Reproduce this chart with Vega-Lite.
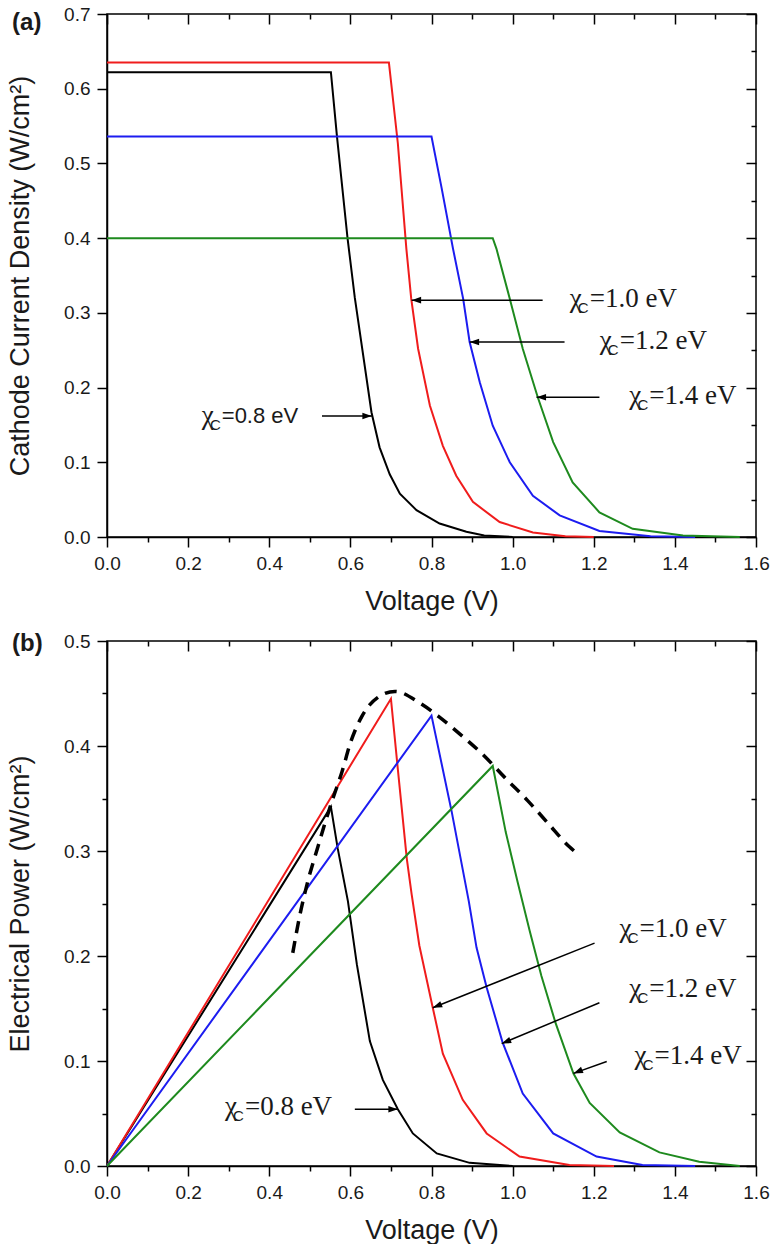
{
  "$schema": "https://vega.github.io/schema/vega-lite/v6.json",
  "background": "white",
  "padding": {"left": 5, "top": 4, "right": 0, "bottom": 0},
  "spacing": 15,
  "config": {
    "view": {"stroke": "black", "strokeWidth": 1.5},
    "axis": {
      "grid": false,
      "domainColor": "black",
      "domainWidth": 1.5,
      "tickColor": "black",
      "tickWidth": 1.5,
      "labelFont": "Liberation Sans",
      "labelFontSize": 19,
      "labelColor": "#1a1a1a",
      "labelFlush": false,
      "labelOverlap": false,
      "labelPadding": 7,
      "titleFont": "Liberation Sans",
      "titleFontSize": 27,
      "titleFontWeight": "normal",
      "titleColor": "#1a1a1a"
    }
  },
  "datasets": {
    "currentA": [
      {"s": "0.8", "V": 0, "J": 0.622}, {"s": "0.8", "V": 0.552, "J": 0.622}, {"s": "0.8", "V": 0.567, "J": 0.536},
      {"s": "0.8", "V": 0.593, "J": 0.4}, {"s": "0.8", "V": 0.611, "J": 0.32}, {"s": "0.8", "V": 0.652, "J": 0.167},
      {"s": "0.8", "V": 0.672, "J": 0.12}, {"s": "0.8", "V": 0.697, "J": 0.084}, {"s": "0.8", "V": 0.722, "J": 0.058},
      {"s": "0.8", "V": 0.763, "J": 0.036}, {"s": "0.8", "V": 0.82, "J": 0.018}, {"s": "0.8", "V": 0.886, "J": 0.007},
      {"s": "0.8", "V": 0.93, "J": 0.002}, {"s": "0.8", "V": 1.0, "J": 0},
      {"s": "1.0", "V": 0, "J": 0.635}, {"s": "1.0", "V": 0.695, "J": 0.635}, {"s": "1.0", "V": 0.717, "J": 0.527},
      {"s": "1.0", "V": 0.738, "J": 0.386}, {"s": "1.0", "V": 0.75, "J": 0.319}, {"s": "1.0", "V": 0.767, "J": 0.252},
      {"s": "1.0", "V": 0.796, "J": 0.176}, {"s": "1.0", "V": 0.828, "J": 0.122}, {"s": "1.0", "V": 0.861, "J": 0.082},
      {"s": "1.0", "V": 0.902, "J": 0.047}, {"s": "1.0", "V": 0.968, "J": 0.02}, {"s": "1.0", "V": 1.05, "J": 0.006},
      {"s": "1.0", "V": 1.13, "J": 0.001}, {"s": "1.0", "V": 1.2, "J": 0},
      {"s": "1.2", "V": 0, "J": 0.536}, {"s": "1.2", "V": 0.8, "J": 0.536}, {"s": "1.2", "V": 0.825, "J": 0.467},
      {"s": "1.2", "V": 0.853, "J": 0.386}, {"s": "1.2", "V": 0.878, "J": 0.319}, {"s": "1.2", "V": 0.894, "J": 0.261},
      {"s": "1.2", "V": 0.919, "J": 0.207}, {"s": "1.2", "V": 0.951, "J": 0.149}, {"s": "1.2", "V": 0.993, "J": 0.1},
      {"s": "1.2", "V": 1.05, "J": 0.055}, {"s": "1.2", "V": 1.116, "J": 0.029}, {"s": "1.2", "V": 1.214, "J": 0.008},
      {"s": "1.2", "V": 1.34, "J": 0.001}, {"s": "1.2", "V": 1.45, "J": 0},
      {"s": "1.4", "V": 0, "J": 0.4}, {"s": "1.4", "V": 0.951, "J": 0.4}, {"s": "1.4", "V": 0.96, "J": 0.386},
      {"s": "1.4", "V": 0.993, "J": 0.319}, {"s": "1.4", "V": 1.025, "J": 0.252}, {"s": "1.4", "V": 1.062, "J": 0.187},
      {"s": "1.4", "V": 1.1, "J": 0.127}, {"s": "1.4", "V": 1.148, "J": 0.073}, {"s": "1.4", "V": 1.214, "J": 0.033},
      {"s": "1.4", "V": 1.296, "J": 0.011}, {"s": "1.4", "V": 1.42, "J": 0.002}, {"s": "1.4", "V": 1.56, "J": 0}
    ],
    "powerB": [
      {"s": "0.8", "V": 0, "P": 0}, {"s": "0.8", "V": 0.552, "P": 0.342}, {"s": "0.8", "V": 0.569, "P": 0.302},
      {"s": "0.8", "V": 0.594, "P": 0.252}, {"s": "0.8", "V": 0.616, "P": 0.192}, {"s": "0.8", "V": 0.648, "P": 0.119},
      {"s": "0.8", "V": 0.68, "P": 0.082}, {"s": "0.8", "V": 0.717, "P": 0.054}, {"s": "0.8", "V": 0.754, "P": 0.031},
      {"s": "0.8", "V": 0.813, "P": 0.012}, {"s": "0.8", "V": 0.894, "P": 0.003}, {"s": "0.8", "V": 1.0, "P": 0},
      {"s": "1.0", "V": 0, "P": 0}, {"s": "1.0", "V": 0.7, "P": 0.445}, {"s": "1.0", "V": 0.717, "P": 0.378},
      {"s": "1.0", "V": 0.739, "P": 0.293}, {"s": "1.0", "V": 0.751, "P": 0.259}, {"s": "1.0", "V": 0.77, "P": 0.21},
      {"s": "1.0", "V": 0.803, "P": 0.151}, {"s": "1.0", "V": 0.828, "P": 0.107}, {"s": "1.0", "V": 0.877, "P": 0.063},
      {"s": "1.0", "V": 0.936, "P": 0.031}, {"s": "1.0", "V": 1.017, "P": 0.009}, {"s": "1.0", "V": 1.14, "P": 0.001},
      {"s": "1.0", "V": 1.25, "P": 0},
      {"s": "1.2", "V": 0, "P": 0}, {"s": "1.2", "V": 0.8, "P": 0.429}, {"s": "1.2", "V": 0.85, "P": 0.337},
      {"s": "1.2", "V": 0.892, "P": 0.252}, {"s": "1.2", "V": 0.911, "P": 0.208}, {"s": "1.2", "V": 0.936, "P": 0.17},
      {"s": "1.2", "V": 0.975, "P": 0.118}, {"s": "1.2", "V": 1.025, "P": 0.069}, {"s": "1.2", "V": 1.1, "P": 0.031},
      {"s": "1.2", "V": 1.207, "P": 0.009}, {"s": "1.2", "V": 1.32, "P": 0.001}, {"s": "1.2", "V": 1.45, "P": 0},
      {"s": "1.4", "V": 0, "P": 0}, {"s": "1.4", "V": 0.951, "P": 0.381}, {"s": "1.4", "V": 0.983, "P": 0.318},
      {"s": "1.4", "V": 1.012, "P": 0.271}, {"s": "1.4", "V": 1.042, "P": 0.224}, {"s": "1.4", "V": 1.071, "P": 0.181},
      {"s": "1.4", "V": 1.106, "P": 0.136}, {"s": "1.4", "V": 1.15, "P": 0.088}, {"s": "1.4", "V": 1.19, "P": 0.06},
      {"s": "1.4", "V": 1.264, "P": 0.032}, {"s": "1.4", "V": 1.362, "P": 0.013}, {"s": "1.4", "V": 1.46, "P": 0.004},
      {"s": "1.4", "V": 1.56, "P": 0}
    ],
    "envelope": [
      {"V": 0.458, "P": 0.203}, {"V": 0.475, "P": 0.238}, {"V": 0.495, "P": 0.271}, {"V": 0.52, "P": 0.304},
      {"V": 0.537, "P": 0.326}, {"V": 0.557, "P": 0.35}, {"V": 0.579, "P": 0.375}, {"V": 0.601, "P": 0.404},
      {"V": 0.628, "P": 0.428}, {"V": 0.667, "P": 0.446}, {"V": 0.71, "P": 0.452}, {"V": 0.771, "P": 0.441},
      {"V": 0.818, "P": 0.428}, {"V": 0.877, "P": 0.409}, {"V": 0.929, "P": 0.391}, {"V": 0.983, "P": 0.369},
      {"V": 1.037, "P": 0.348}, {"V": 1.086, "P": 0.327}, {"V": 1.14, "P": 0.304}, {"V": 1.158, "P": 0.298}
    ],
    "labelsA": [
      {"t": "=1.0 eV", "V": 1.19, "J": 0.319},
      {"t": "=1.2 eV", "V": 1.264, "J": 0.262},
      {"t": "=1.4 eV", "V": 1.337, "J": 0.189},
      {"t": "=0.8 eV", "V": 0.283, "J": 0.162}
    ],
    "arrowsA": [
      {"label": "1.0", "V": 1.074, "J": 0.317, "V2": 0.751, "J2": 0.317},
      {"label": "1.2", "V": 1.128, "J": 0.261, "V2": 0.894, "J2": 0.261},
      {"label": "1.4", "V": 1.214, "J": 0.187, "V2": 1.059, "J2": 0.187},
      {"label": "0.8", "V": 0.53, "J": 0.162, "V2": 0.653, "J2": 0.162}
    ],
    "labelsB": [
      {"t": "=1.0 eV", "V": 1.313, "P": 0.2256},
      {"t": "=1.2 eV", "V": 1.337, "P": 0.1687},
      {"t": "=1.4 eV", "V": 1.35, "P": 0.1052},
      {"t": "=0.8 eV", "V": 0.34, "P": 0.056}
    ],
    "arrowsB": [
      {"label": "1.0", "V": 1.202, "P": 0.2123, "V2": 0.803, "P2": 0.1507},
      {"label": "1.2", "V": 1.214, "P": 0.1555, "V2": 0.973, "P2": 0.1166},
      {"label": "1.4", "V": 1.232, "P": 0.0995, "V2": 1.15, "P2": 0.0882},
      {"label": "0.8", "V": 0.611, "P": 0.054, "V2": 0.717, "P2": 0.054}
    ]
  },
  "vconcat": [
    {
      "width": 649,
      "height": 523,
      "resolve": {"axis": {"x": "independent", "y": "independent"}},
      "layer": [
        {
          "layer": [
            {
              "data": {"name": "currentA"},
              "mark": {"type": "line", "strokeWidth": 2},
              "encoding": {
                "x": {
                  "field": "V", "type": "quantitative",
                  "scale": {"domain": [0, 1.6], "nice": false},
                  "axis": {
                    "orient": "bottom",
                    "title": "Voltage (V)",
                    "titlePadding": 15,
                    "values": [0, 0.1, 0.2, 0.3, 0.4, 0.5, 0.6, 0.7, 0.8, 0.9, 1.0, 1.1, 1.2, 1.3, 1.4, 1.5, 1.6],
                    "labelExpr": "round(datum.value*10)%2===0 ? format(datum.value, '.1f') : ''",
                    "tickSize": {"condition": {"test": "round(datum.value*10)%2===0", "value": 10}, "value": 5}
                  }
                },
                "y": {
                  "field": "J", "type": "quantitative",
                  "scale": {"domain": [0, 0.7], "nice": false},
                  "axis": {
                    "orient": "left",
                    "title": "Cathode Current Density (W/cm²)",
                    "titlePadding": 29,
                    "values": [0, 0.05, 0.1, 0.15, 0.2, 0.25, 0.3, 0.35, 0.4, 0.45, 0.5, 0.55, 0.6, 0.65, 0.7],
                    "labelExpr": "round(datum.value*20)%2===0 ? format(datum.value, '.1f') : ''",
                    "tickSize": {"condition": {"test": "round(datum.value*20)%2===0", "value": 10}, "value": 5}
                  }
                },
                "color": {
                  "field": "s", "type": "nominal",
                  "scale": {"domain": ["0.8", "1.0", "1.2", "1.4"], "range": ["#000000", "#f01c1c", "#1c1cf0", "#1e8a1e"]},
                  "legend": null
                }
              }
            },
            {
              "data": {"name": "arrowsA"},
              "mark": {"type": "rule", "color": "black", "strokeWidth": 1.5},
              "encoding": {
                "x": {"field": "V", "type": "quantitative"},
                "y": {"field": "J", "type": "quantitative"},
                "x2": {"field": "V2"},
                "y2": {"field": "J2"}
              }
            },
            {
              "data": {"name": "arrowsA"},
              "mark": {"type": "point", "filled": true, "color": "black", "opacity": 1, "size": 90},
              "encoding": {
                "x": {"field": "V2", "type": "quantitative"},
                "y": {"field": "J2", "type": "quantitative"},
                "shape": {
                  "field": "label", "type": "nominal",
                  "scale": {"domain": ["0.8", "1.0", "1.2", "1.4"], "range": ["M0,0L-2,-0.7L-2,0.7Z", "M0,0L2,-0.7L2,0.7Z", "M0,0L2,-0.7L2,0.7Z", "M0,0L2,-0.7L2,0.7Z"]},
                  "legend": null
                }
              }
            },
            {
              "data": {"name": "labelsA"},
              "transform": [{"filter": "datum.t !== '=0.8 eV'"}],
              "mark": {"type": "text", "font": "Liberation Serif", "fontSize": 27, "align": "left", "baseline": "middle", "color": "#1a1a1a"},
              "encoding": {
                "x": {"field": "V", "type": "quantitative"},
                "y": {"field": "J", "type": "quantitative"},
                "text": {"field": "t"}
              }
            },
            {
              "data": {"name": "labelsA"},
              "transform": [{"filter": "datum.t === '=0.8 eV'"}],
              "mark": {"type": "text", "font": "Liberation Sans", "fontSize": 22, "align": "left", "baseline": "middle", "color": "#1a1a1a"},
              "encoding": {
                "x": {"field": "V", "type": "quantitative"},
                "y": {"field": "J", "type": "quantitative"},
                "text": {"field": "t"}
              }
            },
            {
              "data": {"name": "labelsA"},
              "mark": {"type": "text", "text": "χ", "font": "Liberation Serif", "fontSize": 27, "align": "right", "baseline": "middle", "dx": -8, "color": "#1a1a1a"},
              "encoding": {
                "x": {"field": "V", "type": "quantitative"},
                "y": {"field": "J", "type": "quantitative"}
              }
            },
            {
              "data": {"name": "labelsA"},
              "mark": {"type": "text", "text": "C", "font": "Liberation Sans", "fontSize": 15, "align": "right", "baseline": "middle", "dx": -1, "dy": 9, "color": "#1a1a1a"},
              "encoding": {
                "x": {"field": "V", "type": "quantitative"},
                "y": {"field": "J", "type": "quantitative"}
              }
            },
            {
              "data": {"values": [{"V": -0.234, "J": 0.688, "t": "(a)"}]},
              "mark": {"type": "text", "font": "Liberation Sans", "fontWeight": "bold", "fontSize": 24, "align": "left", "baseline": "middle", "color": "#1a1a1a"},
              "encoding": {
                "x": {"field": "V", "type": "quantitative"},
                "y": {"field": "J", "type": "quantitative"},
                "text": {"field": "t"}
              }
            }
          ]
        },
        {
          "data": {"values": [{"V": 0, "J": 0}]},
          "mark": {"type": "point", "opacity": 0},
          "encoding": {
            "x": {
              "field": "V", "type": "quantitative",
              "scale": {"domain": [0, 1.6], "nice": false},
              "axis": {
                "orient": "top", "title": null, "labels": false, "domain": false,
                "values": [0, 0.1, 0.2, 0.3, 0.4, 0.5, 0.6, 0.7, 0.8, 0.9, 1.0, 1.1, 1.2, 1.3, 1.4, 1.5, 1.6],
                "tickSize": {"condition": {"test": "round(datum.value*10)%2===0", "value": -10}, "value": -5}
              }
            },
            "y": {
              "field": "J", "type": "quantitative",
              "scale": {"domain": [0, 0.7], "nice": false},
              "axis": {
                "orient": "right", "title": null, "labels": false, "domain": false,
                "values": [0, 0.05, 0.1, 0.15, 0.2, 0.25, 0.3, 0.35, 0.4, 0.45, 0.5, 0.55, 0.6, 0.65, 0.7],
                "tickSize": {"condition": {"test": "round(datum.value*20)%2===0", "value": -10}, "value": -5}
              }
            }
          }
        }
      ]
    },
    {
      "width": 649,
      "height": 525,
      "resolve": {"axis": {"x": "independent", "y": "independent"}},
      "layer": [
        {
          "layer": [
            {
              "data": {"name": "powerB"},
              "mark": {"type": "line", "strokeWidth": 2},
              "encoding": {
                "x": {
                  "field": "V", "type": "quantitative",
                  "scale": {"domain": [0, 1.6], "nice": false},
                  "axis": {
                    "orient": "bottom",
                    "title": "Voltage (V)",
                    "titlePadding": 15,
                    "values": [0, 0.1, 0.2, 0.3, 0.4, 0.5, 0.6, 0.7, 0.8, 0.9, 1.0, 1.1, 1.2, 1.3, 1.4, 1.5, 1.6],
                    "labelExpr": "round(datum.value*10)%2===0 ? format(datum.value, '.1f') : ''",
                    "tickSize": {"condition": {"test": "round(datum.value*10)%2===0", "value": 10}, "value": 5}
                  }
                },
                "y": {
                  "field": "P", "type": "quantitative",
                  "scale": {"domain": [0, 0.5], "nice": false},
                  "axis": {
                    "orient": "left",
                    "title": "Electrical Power (W/cm²)",
                    "titlePadding": 29,
                    "values": [0, 0.05, 0.1, 0.15, 0.2, 0.25, 0.3, 0.35, 0.4, 0.45, 0.5],
                    "labelExpr": "round(datum.value*20)%2===0 ? format(datum.value, '.1f') : ''",
                    "tickSize": {"condition": {"test": "round(datum.value*20)%2===0", "value": 10}, "value": 5}
                  }
                },
                "color": {
                  "field": "s", "type": "nominal",
                  "scale": {"domain": ["0.8", "1.0", "1.2", "1.4"], "range": ["#000000", "#f01c1c", "#1c1cf0", "#1e8a1e"]},
                  "legend": null
                }
              }
            },
            {
              "data": {"name": "envelope"},
              "mark": {"type": "line", "color": "black", "strokeWidth": 3.5, "strokeDash": [12, 8], "interpolate": "monotone"},
              "encoding": {
                "x": {"field": "V", "type": "quantitative"},
                "y": {"field": "P", "type": "quantitative"}
              }
            },
            {
              "data": {"name": "arrowsB"},
              "mark": {"type": "rule", "color": "black", "strokeWidth": 1.5},
              "encoding": {
                "x": {"field": "V", "type": "quantitative"},
                "y": {"field": "P", "type": "quantitative"},
                "x2": {"field": "V2"},
                "y2": {"field": "P2"}
              }
            },
            {
              "data": {"name": "arrowsB"},
              "transform": [{"filter": "datum.label !== '0.8'"}],
              "mark": {"type": "point", "filled": true, "color": "black", "opacity": 1, "size": 90, "shape": "M0,0L2,-0.7L2,0.7Z", "angle": -22},
              "encoding": {
                "x": {"field": "V2", "type": "quantitative"},
                "y": {"field": "P2", "type": "quantitative"}
              }
            },
            {
              "data": {"name": "arrowsB"},
              "transform": [{"filter": "datum.label === '0.8'"}],
              "mark": {"type": "point", "filled": true, "color": "black", "opacity": 1, "size": 90, "shape": "M0,0L-2,-0.7L-2,0.7Z"},
              "encoding": {
                "x": {"field": "V2", "type": "quantitative"},
                "y": {"field": "P2", "type": "quantitative"}
              }
            },
            {
              "data": {"name": "labelsB"},
              "mark": {"type": "text", "font": "Liberation Serif", "fontSize": 27, "align": "left", "baseline": "middle", "color": "#1a1a1a"},
              "encoding": {
                "x": {"field": "V", "type": "quantitative"},
                "y": {"field": "P", "type": "quantitative"},
                "text": {"field": "t"}
              }
            },
            {
              "data": {"name": "labelsB"},
              "mark": {"type": "text", "text": "χ", "font": "Liberation Serif", "fontSize": 27, "align": "right", "baseline": "middle", "dx": -8, "color": "#1a1a1a"},
              "encoding": {
                "x": {"field": "V", "type": "quantitative"},
                "y": {"field": "P", "type": "quantitative"}
              }
            },
            {
              "data": {"name": "labelsB"},
              "mark": {"type": "text", "text": "C", "font": "Liberation Sans", "fontSize": 15, "align": "right", "baseline": "middle", "dx": -1, "dy": 9, "color": "#1a1a1a"},
              "encoding": {
                "x": {"field": "V", "type": "quantitative"},
                "y": {"field": "P", "type": "quantitative"}
              }
            },
            {
              "data": {"values": [{"V": -0.234, "P": 0.4976, "t": "(b)"}]},
              "mark": {"type": "text", "font": "Liberation Sans", "fontWeight": "bold", "fontSize": 24, "align": "left", "baseline": "middle", "color": "#1a1a1a"},
              "encoding": {
                "x": {"field": "V", "type": "quantitative"},
                "y": {"field": "P", "type": "quantitative"},
                "text": {"field": "t"}
              }
            }
          ]
        },
        {
          "data": {"values": [{"V": 0, "P": 0}]},
          "mark": {"type": "point", "opacity": 0},
          "encoding": {
            "x": {
              "field": "V", "type": "quantitative",
              "scale": {"domain": [0, 1.6], "nice": false},
              "axis": {
                "orient": "top", "title": null, "labels": false, "domain": false,
                "values": [0, 0.1, 0.2, 0.3, 0.4, 0.5, 0.6, 0.7, 0.8, 0.9, 1.0, 1.1, 1.2, 1.3, 1.4, 1.5, 1.6],
                "tickSize": {"condition": {"test": "round(datum.value*10)%2===0", "value": -10}, "value": -5}
              }
            },
            "y": {
              "field": "P", "type": "quantitative",
              "scale": {"domain": [0, 0.5], "nice": false},
              "axis": {
                "orient": "right", "title": null, "labels": false, "domain": false,
                "values": [0, 0.05, 0.1, 0.15, 0.2, 0.25, 0.3, 0.35, 0.4, 0.45, 0.5],
                "tickSize": {"condition": {"test": "round(datum.value*20)%2===0", "value": -10}, "value": -5}
              }
            }
          }
        }
      ]
    }
  ]
}
